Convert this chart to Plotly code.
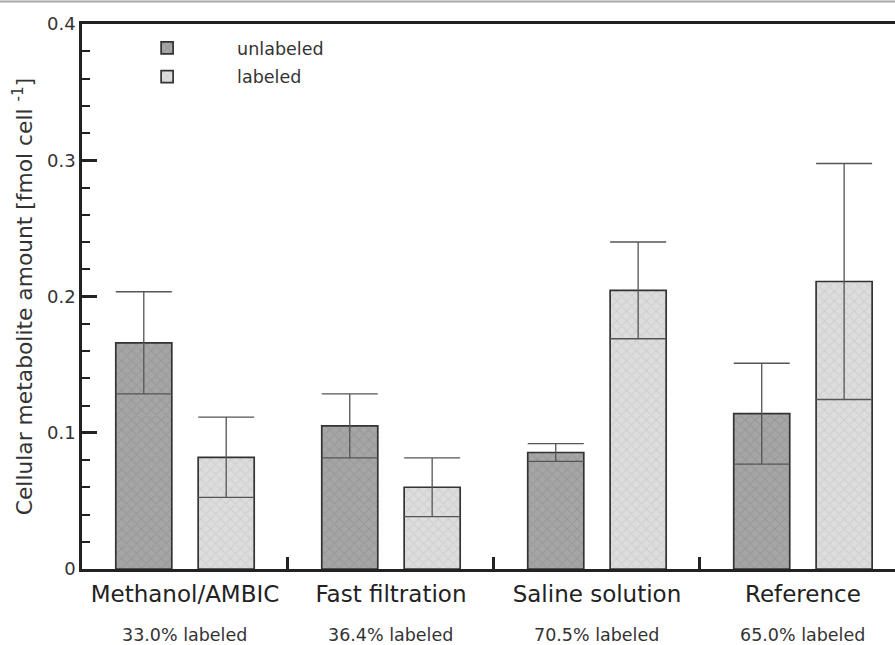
import plotly.graph_objects as go

categories = ["Methanol/AMBIC", "Fast filtration", "Saline solution", "Reference"]
percent_labels = ["33.0% labeled", "36.4% labeled", "70.5% labeled", "65.0% labeled"]
unlabeled = [0.166, 0.105, 0.0855, 0.114]
unlabeled_sd = [0.0375, 0.0235, 0.0065, 0.037]
labeled = [0.082, 0.060, 0.2045, 0.211]
labeled_sd = [0.0295, 0.0215, 0.0355, 0.0866]

centers = [i + 0.5 for i in range(len(categories))]
offset = 0.2
bar_w = 0.272

fig = go.Figure()
fig.add_trace(go.Bar(
    name="unlabeled", legendgroup="u", x=[c - offset for c in centers], y=unlabeled, width=bar_w,
    marker=dict(color="#a0a0a0", line=dict(color="#333333", width=1.7),
                pattern=dict(shape="x", fgcolor="#888888", bgcolor="#a6a6a6", size=7, solidity=0.3)),
    error_y=dict(type="data", array=unlabeled_sd, symmetric=True, color="#555555", thickness=1.3, width=28),
))
fig.add_trace(go.Bar(
    name="labeled", legendgroup="l", x=[c + offset for c in centers], y=labeled, width=bar_w,
    marker=dict(color="#dadada", line=dict(color="#333333", width=1.7),
                pattern=dict(shape="x", fgcolor="#c0c0c0", bgcolor="#dddddd", size=7, solidity=0.3)),
    error_y=dict(type="data", array=labeled_sd, symmetric=True, color="#555555", thickness=1.3, width=28),
))

for c, t in zip(centers, percent_labels):
    fig.add_annotation(x=c, y=-0.121, xref="x", yref="paper", text=t, showarrow=False,
                       font=dict(size=17.5, color="#333333"), yanchor="middle")

# thin grey frame line at the very top of the image
fig.add_shape(type="line", xref="paper", yref="paper", x0=-0.11, x1=1.0, y0=1.0415, y1=1.0415,
              line=dict(color="#a8a8a8", width=2))

fig.update_layout(
    width=895, height=645,
    margin=dict(l=82, r=0, t=24, b=76),
    plot_bgcolor="white", paper_bgcolor="white",
    font=dict(family="DejaVu Sans", color="#333333"),
    barmode="overlay",
    showlegend=True,
    legend=dict(x=0.0186, y=0.989, xanchor="left", yanchor="top", bgcolor="rgba(0,0,0,0)",
                font=dict(size=17.5, color="#333333"), itemwidth=130, tracegroupgap=3,
                traceorder="grouped"),
    xaxis=dict(range=[0, 3.947], tickmode="array", tickvals=centers, ticktext=categories,
               ticks="", tickfont=dict(size=23, color="#222222"), showline=True, linecolor="#222222",
               linewidth=2.5, mirror=True, showgrid=False, zeroline=False, automargin=False,
               ticklabelstandoff=3,
               minor=dict(tickmode="array", tickvals=[1, 2, 3], ticks="inside", ticklen=12,
                          tickwidth=2.5, tickcolor="#222222")),
    yaxis=dict(range=[0, 0.4], tickvals=[0, 0.1, 0.2, 0.3, 0.4], ticktext=["0", "0.1", "0.2", "0.3", "0.4"],
               ticks="inside", ticklen=15, tickwidth=2.5, tickcolor="#222222",
               tickfont=dict(size=18, color="#333333"), showline=True, linecolor="#222222", linewidth=2.5,
               showgrid=False, zeroline=False, automargin=False,
               minor=dict(dtick=0.02, ticks="inside", ticklen=8, tickwidth=2, tickcolor="#222222"),
               title=dict(text="Cellular metabolite amount [fmol cell <sup>-1</sup>]",
                          font=dict(size=21.8, color="#333333"), standoff=9)),
)

fig.write_html("out.html", config={"displayModeBar": False},
               post_script="document.body.style.margin='0';")
